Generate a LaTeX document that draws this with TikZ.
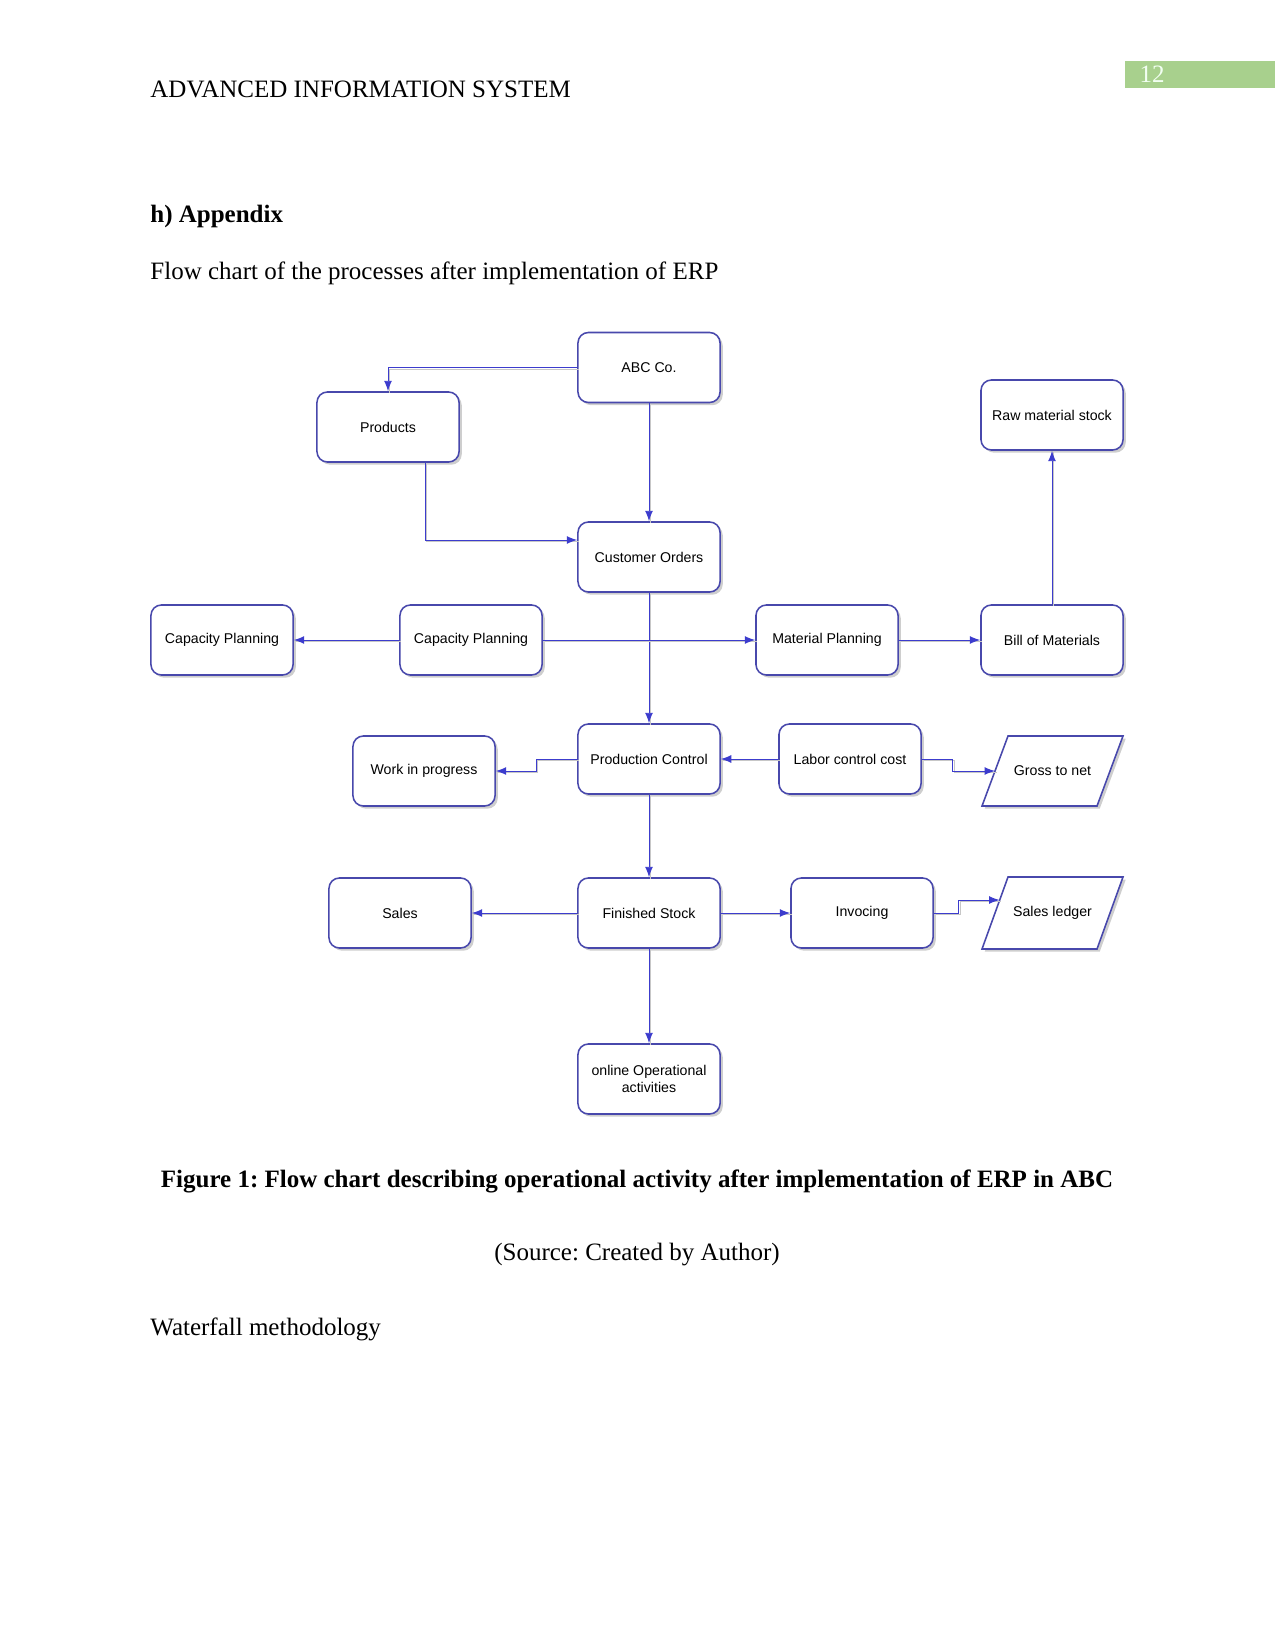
\documentclass[tikz,border=0pt]{standalone}
\usepackage{fontspec}
\setmainfont{Liberation Serif}
\newfontfamily\arialfont{Liberation Sans}
\usetikzlibrary{arrows.meta,shadows,calc}
\definecolor{boxblue}{RGB}{72,72,172}
\definecolor{lineblue}{RGB}{60,60,205}
\definecolor{pagegreen}{RGB}{168,208,141}
\frenchspacing
\begin{document}
\begin{tikzpicture}[x=0.48pt,y=-0.48pt,
  boxshadow/.style={drop shadow={shadow xshift=1.3pt,shadow yshift=-1.3pt,fill=black!35,opacity=0.55}},
  proc/.style={draw=boxblue, line width=0.75pt, rounded corners=5pt, fill=white,
    minimum width=68.2pt, minimum height=33.6pt, inner sep=0pt, align=center,
    font=\arialfont\fontsize{6.8}{8.2}\selectfont, boxshadow},
  iotext/.style={inner sep=0pt, font=\arialfont\fontsize{6.8}{8.2}\selectfont},
  conn/.style={draw=lineblue, line width=0.45pt, -{Latex[length=5pt,width=3.8pt]},
    preaction={draw=black!22, line width=0.6pt, -, transform canvas={xshift=0.8pt,yshift=-0.8pt}}},
  pagetext/.style={inner sep=0pt, font=\fontsize{12}{14}\selectfont}
]
\useasboundingbox (0,0) rectangle (1275,1650);
% page header
\fill[pagegreen] (1125,61) rectangle (1275,88);
\node[pagetext, anchor=base, text=white!95!green] (pgno) at (1152,83) {12};
\node[pagetext, anchor=base west] (hdr) at (150,98) {ADVANCED INFORMATION SYSTEM};
\node[pagetext, anchor=base west, font=\fontsize{12}{14}\selectfont\bfseries] (app) at (150,223) {h) Appendix};
\node[pagetext, anchor=base west] (intro) at (150,280) {Flow chart of the processes after implementation of ERP};

% boxes
\node[proc] (abc) at (649,367.5) {ABC Co.};
\node[proc] (prod) at (388,427) {Products};
\node[proc] (co) at (649,557) {Customer Orders};
\node[proc] (cap1) at (222,640) {Capacity Planning};
\node[proc] (cap2) at (471,640) {Capacity Planning};
\node[proc] (mp) at (827,640) {Material Planning};
\node[proc] (bom) at (1052,640) {Bill of Materials};
\node[proc] (raw) at (1052,415) {Raw material stock};
\node[proc] (wip) at (424,771) {Work in progress};
\node[proc] (pc) at (649,759) {Production Control};
\node[proc] (labor) at (850,759) {Labor control cost};
\node[proc] (sales) at (400,913) {Sales};
\node[proc] (fs) at (649,913) {Finished Stock};
\node[proc] (inv) at (862,913) {Invocing};
\node[proc] (online) at (649,1079) {online Operational\\activities};

% parallelograms
\path[draw=boxblue, line width=0.75pt, fill=white, boxshadow]
  (1008,736) -- (1123,736) -- (1097,806) -- (982,806) -- cycle;
\node[iotext] (gross) at (1052.5,771) {Gross to net};
\coordinate (grossin) at (995,771);
\path[draw=boxblue, line width=0.75pt, fill=white, boxshadow]
  (1008,877) -- (1123,877) -- (1097,949) -- (982,949) -- cycle;
\node[iotext] (ledger) at (1052.5,913) {Sales ledger};
\coordinate (ledgerin) at (999.5,900);

% connectors
\draw[conn] (abc.west) -| (prod.north);
\draw[conn] (abc.south) -- (co.north);
\draw[conn] ($(prod.south)+(37,0)$) |- ($(co.west)+(0,-17)$);
\draw[conn] (co.south) -- (pc.north);
\draw[conn] (cap2.west) -- (cap1.east);
\draw[conn] (cap2.east) -- (mp.west);
\draw[conn] (mp.east) -- (bom.west);
\draw[conn] (bom.north) -- (raw.south);
\draw[conn] (pc.west) -- ++(-41,0) |- (wip.east);
\draw[conn] (labor.west) -- (pc.east);
\draw[conn] (labor.east) -- ++(31,0) |- (grossin);
\draw[conn] (pc.south) -- (fs.north);
\draw[conn] (fs.west) -- (sales.east);
\draw[conn] (fs.east) -- (inv.west);
\draw[conn] (inv.east) -- ++(25,0) |- (ledgerin);
\draw[conn] (fs.south) -- (online.north);

% caption
\node[pagetext, anchor=base, font=\fontsize{12}{14}\selectfont\bfseries] (cap) at (637,1187) {Figure 1: Flow chart describing operational activity after implementation of ERP in ABC};
\node[pagetext, anchor=base] (src) at (637,1260) {(Source: Created by Author)};
\node[pagetext, anchor=base west] (wf) at (150,1335) {Waterfall methodology};
\end{tikzpicture}
\end{document}
